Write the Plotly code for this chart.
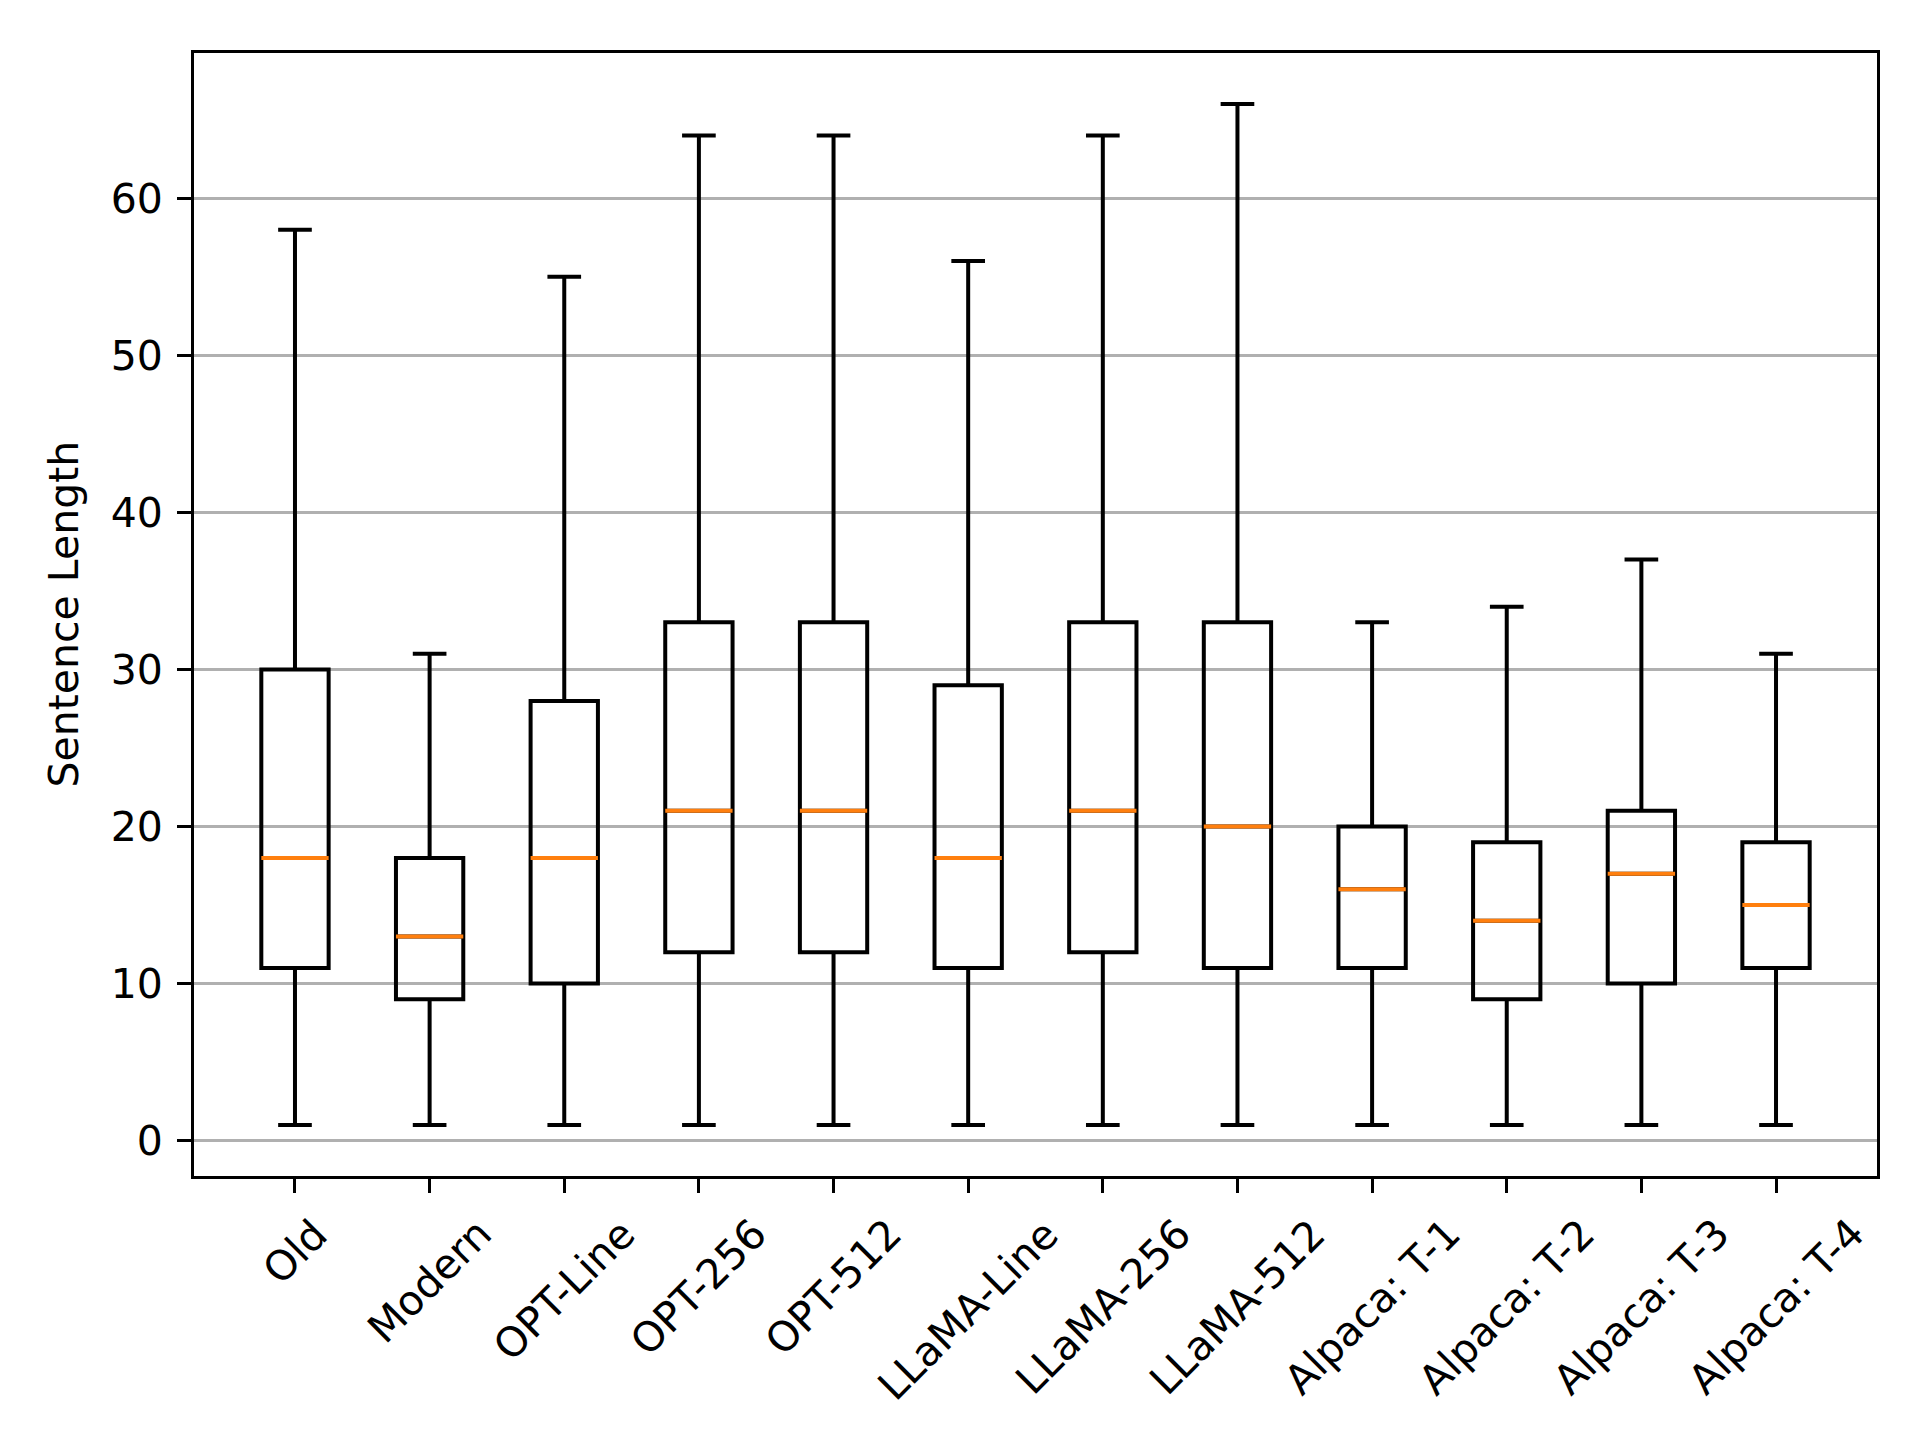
import plotly.graph_objects as go

# box stats (whiskers at min/max, no fliers)
categories = ["Old", "Modern", "OPT-Line", "OPT-256", "OPT-512", "LLaMA-Line",
              "LLaMA-256", "LLaMA-512", "Alpaca: T-1", "Alpaca: T-2",
              "Alpaca: T-3", "Alpaca: T-4"]
lower_whisker = [1, 1, 1, 1, 1, 1, 1, 1, 1, 1, 1, 1]
q1_vals = [11, 9, 10, 12, 12, 11, 12, 11, 11, 9, 10, 11]
median_vals = [18, 13, 18, 21, 21, 18, 21, 20, 16, 14, 17, 15]
q3_vals = [30, 18, 28, 33, 33, 29, 33, 33, 20, 19, 21, 19]
upper_whisker = [58, 31, 55, 64, 64, 56, 64, 66, 33, 34, 37, 31]

FONT = "DejaVu Sans"
FS = 41

fig = go.Figure()

# black boxes + whiskers
fig.add_trace(go.Box(
    x=categories,
    q1=q1_vals, median=median_vals, q3=q3_vals,
    lowerfence=lower_whisker, upperfence=upper_whisker,
    width=0.5, whiskerwidth=0.5,
    line=dict(color="black", width=4),
    fillcolor="rgba(0,0,0,0)",
    boxpoints=False, showlegend=False, hoverinfo="skip",
))

# orange median line drawn as a collapsed box on top
fig.add_trace(go.Box(
    x=categories,
    q1=median_vals, median=median_vals, q3=median_vals,
    lowerfence=median_vals, upperfence=median_vals,
    width=0.5, whiskerwidth=0.0,
    line=dict(color="#ff7f0e", width=4),
    fillcolor="rgba(0,0,0,0)",
    boxpoints=False, showlegend=False, hoverinfo="skip",
))

# rotated x labels centred under each tick (matplotlib style)
for cat in categories:
    fig.add_annotation(
        x=cat, y=0, xref="x", yref="paper",
        text=cat, textangle=-45, showarrow=False,
        xanchor="center", yanchor="top", yshift=-31,
        font=dict(family=FONT, size=FS, color="black"),
    )

fig.add_annotation(
    x=0, y=0.5, xref="paper", yref="paper",
    text="Sentence Length", textangle=-90, showarrow=False,
    xanchor="right", yanchor="middle", xshift=-105,
    font=dict(family=FONT, size=FS, color="black"),
)

fig.update_layout(
    width=1920, height=1440,
    margin=dict(l=186, r=51, t=45, b=272),
    paper_bgcolor="white", plot_bgcolor="white",
    boxmode="overlay",
    font=dict(family=FONT, size=FS, color="black"),
    xaxis=dict(
        range=[-0.75, len(categories) - 0.25],
        showticklabels=False,
        ticks="outside", ticklen=14, tickwidth=3, tickcolor="black",
        showgrid=False, zeroline=False,
        showline=True, linecolor="black", linewidth=3, mirror=True,
    ),
    yaxis=dict(
        range=[-2.25, 69.25],
        tickvals=[0, 10, 20, 30, 40, 50, 60],
        ticks="outside", ticklen=14, tickwidth=3, tickcolor="black",
        ticklabelstandoff=6,
        showgrid=True, gridcolor="#b0b0b0", gridwidth=3,
        zeroline=False,
        showline=True, linecolor="black", linewidth=3, mirror=True,
    ),
)

fig.write_html("out.html")
